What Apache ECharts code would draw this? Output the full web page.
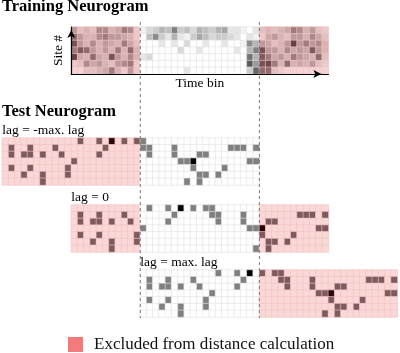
<!DOCTYPE html>
<html><head><meta charset="utf-8">
<script src="https://cdn.jsdelivr.net/npm/echarts@6/dist/echarts.min.js"></script>
<style>html,body{margin:0;padding:0;background:#fff}#c{width:400px;height:353px}</style>
</head><body><div id="c"></div>
<script>
// ---------- DATA ----------
// Training neurogram: 7 sites (top -> bottom) x 41 time bins, activity 0..1
const trainingNeurogram = [
  [.30,.15,.20,.15,.35,.35,.20,.25,.40,.35,.10, .05,.15,.20,.30,.25,.50,.20,.25,.15,.30,.25,.20,.30,.35,.10,.10,.05,0,.10, .15,.20,.15,.20,.25,.40,.35,.20,.30,.15,.10],
  [.45,.30,.20,.20,.35,.40,.30,.30,.25,.20,.10, 0,.25,.45,.20,.10,.30,.10,.05,.20,.35,.25,.15,.20,.20,.15,.10,0,.10,.05, .10,.25,.30,.20,.15,.30,.30,.20,.35,.25,.15],
  [.55,.30,.20,.35,.20,.30,.25,.20,.40,.25,.15, 0,0,0,.10,0,.10,0,.15,0,0,.10,0,0,.10,0,0,.05,.45,.30, .30,.25,.15,.20,.30,.65,.30,.40,.30,.35,.20],
  [.40,.50,.45,.30,.20,.30,.20,.40,.20,.45,.20, 0,0,0,0,0,0,.15,0,0,.10,0,0,0,0,0,.10,0,.30,.50, .55,.30,.30,.20,.35,.25,.30,.25,.50,.30,.20],
  [.65,.25,.20,.45,.25,.20,.55,.30,.20,.35,.20, .10,.15,0,0,0,0,0,0,0,0,0,0,0,0,0,0,0,.55,.30, .50,.40,.25,.30,.20,.40,.30,.25,.20,.45,.15],
  [.10,.15,.35,.25,.30,.20,.15,.30,.35,.40,.10, 0,0,0,0,0,0,0,0,0,0,0,0,0,0,0,0,0,.65,.40, .55,.60,.40,.20,.45,.20,.25,.20,.30,.15,.10],
  [.05,.05,.15,.15,.20,.25,.40,.20,.10,.30,.10, 0,0,0,0,0,0,0,.10,0,0,0,0,0,0,0,0,0,.20,.60, .45,.45,.15,.10,.05,.05,.05,.05,.05,.05,.05]
];
// Test neurogram: 0 = no spike, 1 = spike, 2 = strong spike
const testNeurogram = [
  [0,0,0,0,0,0,0,0,0,0, 0,0,1,0,0,1,0,2,0,1, 0,1,1,0,0,0,0,0,0,0, 0,0,0,0,0,0,0,0,0,0, 0],
  [0,1,0,0,1,0,0,0,1,0, 0,0,0,0,0,0,1,0,0,0, 0,0,1,1,0,0,0,1,0,0, 0,0,0,0,0,0,1,1,1,0, 1],
  [0,1,0,1,1,0,1,0,0,1, 0,0,0,0,0,1,0,0,0,0, 0,0,0,1,0,0,0,1,0,0, 0,1,1,0,0,0,0,0,0,0, 0],
  [0,0,0,0,0,0,0,0,0,0, 0,1,0,0,0,0,0,0,0,0, 0,0,0,0,0,0,0,0,1,1, 2,0,0,0,0,0,0,0,0,1, 1],
  [0,1,0,0,1,0,0,0,0,0, 1,0,0,0,0,0,0,0,0,0, 0,0,0,0,0,0,0,0,0,0, 1,0,0,0,0,1,0,0,0,0, 0],
  [0,0,0,1,0,0,1,0,0,0, 1,0,0,0,0,0,0,0,0,0, 0,0,0,0,0,0,0,0,0,0, 0,1,1,0,1,0,0,0,0,0, 0],
  [0,0,0,0,0,0,1,0,0,0, 0,0,0,0,0,0,0,0,0,0, 0,0,0,0,0,0,0,0,0,1, 0,1,0,0,0,0,0,0,0,0, 0]
];
const comparisonWindow = [11, 29];          // training time bins used for distance
const lagShifts = [-11, 0, 11];             // test neurogram shifts (bins)
const lagLabels = ['lag = -max. lag', 'lag = 0', 'lag = max. lag'];
const titles = ['Training Neurogram', 'Test Neurogram'];
const axisNames = {x: 'Time bin', y: 'Site #'};
const legendLabel = 'Excluded from distance calculation';

// ---------- LAYOUT / STYLE ----------
const FONT = "'Liberation Serif','Times New Roman',serif";
const nRows = trainingNeurogram.length;
const nBins = trainingNeurogram[0].length;
const binLabels = Array.from({length: nBins}, (_, i) => String(i + 1));
const siteLabels = Array.from({length: nRows}, (_, i) => String(i + 1));
const left0 = 71.3, cellW = 6.27, panelH = 47;
const panelTops = [27, 138, 205, 270];
const panelLags = [0].concat(lagShifts);

function lerp(a, b, t) { return a.map((x, i) => Math.round(x + (b[i] - x) * t)); }
function grayShade(v) { const c = Math.round(255 * (1 - v)); return `rgb(${c},${c},${c})`; }
function pinkShade(v) {
  const P0 = [251, 216, 216], P1 = [126, 90, 93], P2 = [42, 5, 5];
  const c = v <= 0.5 ? lerp(P0, P1, Math.pow(v / 0.5, 1.35)) : lerp(P1, P2, (v - 0.5) / 0.5);
  return `rgb(${c[0]},${c[1]},${c[2]})`;
}
function panelData(matrix, scale, lag) {
  const out = [];
  matrix.forEach((row, r) => row.forEach((val, c) => {
    const v = val * scale;
    const t = c + lag;
    const excl = t < comparisonWindow[0] || t > comparisonWindow[1];
    out.push({
      value: [c, nRows - 1 - r, v],
      itemStyle: {
        color: excl ? pinkShade(v) : grayShade(v),
        borderColor: excl ? '#f1c3c3' : '#e2e2e2',
        borderWidth: 0.6
      }
    });
  }));
  return out;
}

const grids = panelLags.map((lag, i) => ({
  left: left0 + lag * cellW, top: panelTops[i], width: nBins * cellW, height: panelH
}));

const xAxes = panelLags.map((lag, i) => i === 0 ? {
  gridIndex: 0, type: 'category', data: binLabels, z: 10,
  axisLine: {show: true, symbol: ['none', 'arrow'], symbolSize: [6, 8], symbolOffset: [0, -7],
    lineStyle: {color: '#000', width: 1.2}},
  axisTick: {show: false}, axisLabel: {show: false}, splitLine: {show: false},
  name: axisNames.x, nameLocation: 'middle', nameGap: 2,
  nameTextStyle: {fontFamily: FONT, fontSize: 13.5, color: '#000'}
} : {gridIndex: i, type: 'category', data: binLabels, show: false});

const yAxes = panelLags.map((lag, i) => i === 0 ? {
  gridIndex: 0, type: 'category', data: siteLabels, z: 10,
  axisLine: {show: true, symbol: ['none', 'arrow'], symbolSize: [6, 8], symbolOffset: [0, -3],
    lineStyle: {color: '#000', width: 1.2}},
  axisTick: {show: false}, axisLabel: {show: false}, splitLine: {show: false},
  name: axisNames.y, nameLocation: 'middle', nameRotate: 90, nameGap: 6,
  nameTextStyle: {fontFamily: FONT, fontSize: 13.5, color: '#000'}
} : {gridIndex: i, type: 'category', data: siteLabels, show: false});

const series = panelLags.map((lag, i) => ({
  type: 'heatmap', xAxisIndex: i, yAxisIndex: i,
  data: i === 0 ? panelData(trainingNeurogram, 1, 0) : panelData(testNeurogram, 0.5, lag),
  emphasis: {disabled: true}, label: {show: false}, silent: true, progressive: 0
}));
series.push({type: 'bar', name: legendLabel, data: [], xAxisIndex: 0, yAxisIndex: 0,
  itemStyle: {color: '#f47b7b'}});

function txt(text, x, y, size, weight) {
  return {type: 'text', z: 100, silent: true,
    style: {text, x, y, fill: '#000', fontFamily: FONT, fontSize: size, fontWeight: weight || 'normal',
      align: 'left', verticalAlign: 'middle', textAlign: 'left', textVerticalAlign: 'middle'}};
}
const graphics = [];
comparisonWindow.forEach((b, k) => {
  const x = left0 + (b + k) * cellW;
  graphics.push({type: 'line', z: 100, silent: true,
    shape: {x1: x, y1: 22, x2: x, y2: 318},
    style: {stroke: '#7a7a7a', lineWidth: 1, lineDash: [3, 3]}});
});
graphics.push(txt(titles[0], 2, 6.5, 16.5, 'bold'));
graphics.push(txt(titles[1], 2, 112, 16.5, 'bold'));
lagLabels.forEach((t, i) => graphics.push(txt(t, grids[i + 1].left, panelTops[i + 1] - 7.5, 13.5)));

const chart = echarts.init(document.getElementById('c'), null, {renderer: 'canvas'});
chart.setOption({
  animation: false,
  backgroundColor: '#fff',
  grid: grids, xAxis: xAxes, yAxis: yAxes, series,
  legend: {data: [legendLabel], left: 68, top: 336, padding: 0, icon: 'rect',
    itemWidth: 15, itemHeight: 15, selectedMode: false,
    textStyle: {fontFamily: FONT, fontSize: 17, color: '#111', padding: [0, 0, 0, 6]}},
  graphic: graphics
});
</script></body></html>
